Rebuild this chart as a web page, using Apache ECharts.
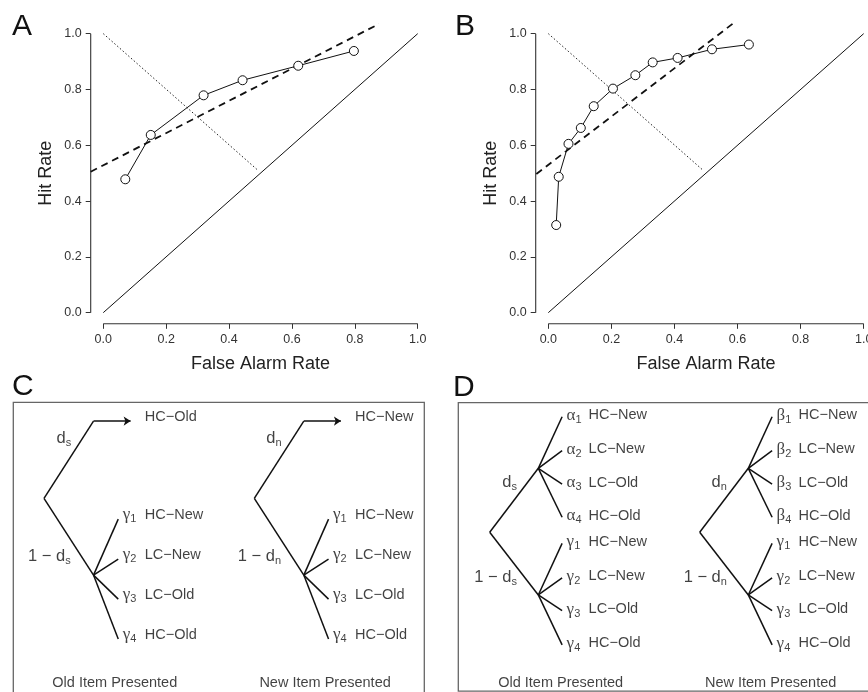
<!DOCTYPE html>
<html><head><meta charset="utf-8">
<script src="https://cdn.jsdelivr.net/npm/echarts@6/dist/echarts.min.js"></script>
<style>html,body{margin:0;padding:0;background:#fff}#c{width:868px;height:692px}</style>
</head><body><div id="c"></div>
<script>
// ---------------- DATA ----------------
const rocA = [[0.070,0.478],[0.151,0.637],[0.319,0.779],[0.443,0.833],[0.620,0.885],[0.797,0.938]];
const rocB = [[0.025,0.314],[0.033,0.487],[0.064,0.605],[0.103,0.662],[0.144,0.740],[0.205,0.803],[0.276,0.851],[0.331,0.897],[0.410,0.913],[0.519,0.944],[0.636,0.961]];
const dashedA = [[-0.04,0.505],[0.877,1.035]];
const dashedB = [[-0.038,0.497],[0.584,1.035]];
const dottedA = [[0,1],[0.493,0.509]];
const dottedB = [[0,1],[0.492,0.509]];
const chanceLine = [[0,0],[1,1]];
const tickValues = [0,0.2,0.4,0.6,0.8,1.0];
const tickLabels = ['0.0','0.2','0.4','0.6','0.8','1.0'];
const xAxisTitle = 'False Alarm Rate';
const yAxisTitle = 'Hit Rate';
const panelLetters = ['A','B','C','D'];
const captions = ['Old Item Presented','New Item Presented'];

// Tree C (units: depth, row)
const treeCNodes = {root:[0,0], up:[1,-1.93], arr:[1.75,-1.93], top:[1.5,-1.93], low:[1,1.92],
  g1:[1.5,0.52], g2:[1.5,1.52], g3:[1.5,2.52], g4:[1.5,3.52]};
const treeCEdges = [['root','up'],['root','low'],['low','g4'],['low','g1'],['low','g2'],['low','g3']];
const treeCArrow = [['up','arr']];
const treeCLeavesOld = [{node:'top',t:'HC\u2212Old'},{node:'g1',g:'\u03b3',s:'1',t:'HC\u2212New'},{node:'g2',g:'\u03b3',s:'2',t:'LC\u2212New'},{node:'g3',g:'\u03b3',s:'3',t:'LC\u2212Old'},{node:'g4',g:'\u03b3',s:'4',t:'HC\u2212Old'}];
const treeCLeavesNew = [{node:'top',t:'HC\u2212New'},{node:'g1',g:'\u03b3',s:'1',t:'HC\u2212New'},{node:'g2',g:'\u03b3',s:'2',t:'LC\u2212New'},{node:'g3',g:'\u03b3',s:'3',t:'LC\u2212Old'},{node:'g4',g:'\u03b3',s:'4',t:'HC\u2212Old'}];
const treeCBranch = {up:[0.56,-1.48], low:[0.55,1.46], caption:[1.44,4.62]};

// Tree D
const treeDNodes = {root:[0,0], up:[1,-1.91], low:[1,1.87],
  a1:[1.49,-3.45], a2:[1.49,-2.44], a3:[1.49,-1.44], a4:[1.49,-0.45],
  g1:[1.49,0.33], g2:[1.49,1.36], g3:[1.49,2.34], g4:[1.49,3.36]};
const treeDEdges = [['root','up'],['root','low'],['up','a1'],['up','a2'],['up','a3'],['up','a4'],['low','g1'],['low','g2'],['low','g3'],['low','g4']];
const responses = ['HC\u2212New','LC\u2212New','LC\u2212Old','HC\u2212Old'];
const treeDBranch = {up:[0.57,-1.46], low:[0.57,1.37], caption:[1.47,4.5]};

// ---------------- BUILD ----------------
const FONT = '"Liberation Sans", Arial, Helvetica, sans-serif';
const SERIF = '"Liberation Serif", "DejaVu Serif", serif';
const INK = '#111';
const grids = [], xAxes = [], yAxes = [], series = [], titles = [];

function rocPanel(gi, left, width, roc, dashed, dotted) {
  grids.push({left: left, top: 22.5, width: width, height: 301.3, outerBoundsMode: 'none', containLabel: false});
  const common = {
    gridIndex: gi, type: 'value', min: -0.04, max: 1.04,
    axisLine: {show: false, onZero: false}, splitLine: {show: false},
    axisTick: {show: true, customValues: tickValues, length: 5, lineStyle: {color: '#333', width: 1}},
    nameLocation: 'middle',
    nameTextStyle: {fontSize: 18, color: '#222', fontFamily: FONT}
  };
  xAxes.push(Object.assign({}, common, {
    name: xAxisTitle, nameGap: 31,
    axisLabel: {customValues: tickValues, formatter: v => tickLabels[Math.round(v * 5)], fontSize: 12.5, color: '#333', fontFamily: FONT, margin: 9}
  }));
  yAxes.push(Object.assign({}, common, {
    name: yAxisTitle, nameGap: 36,
    axisLabel: {customValues: tickValues, formatter: v => tickLabels[Math.round(v * 5)], fontSize: 12.5, color: '#333', fontFamily: FONT, margin: 9}
  }));
  const base = {xAxisIndex: gi, yAxisIndex: gi, silent: true, animation: false};
  series.push(Object.assign({type: 'line', data: [[-0.04, 0], [-0.04, 1]], symbol: 'none', clip: false,
    lineStyle: {color: '#333', width: 1.1}}, base));
  series.push(Object.assign({type: 'line', data: [[0, -0.04], [1, -0.04]], symbol: 'none', clip: false,
    lineStyle: {color: '#333', width: 1.1}}, base));
  series.push(Object.assign({type: 'line', data: chanceLine, symbol: 'none', lineStyle: {color: INK, width: 1}}, base));
  series.push(Object.assign({type: 'line', data: dotted, symbol: 'none', lineStyle: {color: '#222', width: 1, type: [1.5, 2.2]}}, base));
  series.push(Object.assign({type: 'line', data: dashed, symbol: 'none', lineStyle: {color: INK, width: 1.8, type: [7, 5]}}, base));
  series.push(Object.assign({type: 'line', data: roc, symbol: 'circle', symbolSize: 9,
    itemStyle: {color: '#fff', borderColor: INK, borderWidth: 1}, lineStyle: {color: INK, width: 1}}, base));
}

function tree(gi, rootPx, ux, uy, nodes, edges, arrowEdges, leaves, branch, subLetter, caption, dy) {
  grids.push({left: rootPx[0] - ux, top: rootPx[1] - 5 * uy, width: 4 * ux, height: 10.5 * uy, outerBoundsMode: 'none', containLabel: false});
  xAxes.push({gridIndex: gi, type: 'value', min: -1, max: 3, show: false});
  yAxes.push({gridIndex: gi, type: 'value', min: -5, max: 5.5, inverse: true, show: false});
  const base = {xAxisIndex: gi, yAxisIndex: gi, silent: true, animation: false};
  series.push(Object.assign({type: 'lines', coordinateSystem: 'cartesian2d',
    data: edges.map(e => ({coords: [nodes[e[0]], nodes[e[1]]]})),
    symbol: 'none', lineStyle: {color: INK, width: 1.5, opacity: 1}}, base));
  if (arrowEdges.length) {
    series.push(Object.assign({type: 'lines', coordinateSystem: 'cartesian2d',
      data: arrowEdges.map(e => ({coords: [nodes[e[0]], nodes[e[1]]]})),
      symbol: ['none', 'arrow'], symbolSize: [5, 7], lineStyle: {color: INK, width: 1.5, opacity: 1}}, base));
  }
  const invisible = {symbolSize: 1, itemStyle: {color: 'rgba(0,0,0,0)'}};
  series.push(Object.assign({type: 'scatter', data: leaves.filter(l => l.g).map(l => ({value: nodes[l.node], g: l.g, s: l.s})),
    label: {show: true, position: [5, dy], align: 'left', verticalAlign: 'middle',
      formatter: p => '{g|' + p.data.g + '}{s|' + p.data.s + '}',
      rich: {g: {fontFamily: SERIF, fontSize: 17, color: INK, lineHeight: 20},
             s: {fontFamily: FONT, fontSize: 11, color: INK, lineHeight: 10, verticalAlign: 'bottom'}}}
  }, invisible, base));
  series.push(Object.assign({type: 'scatter', data: leaves.map(l => ({value: nodes[l.node], t: l.t})),
    label: {show: true, position: [27, dy], align: 'left', verticalAlign: 'middle',
      formatter: p => p.data.t, fontFamily: FONT, fontSize: 14.5, color: INK}
  }, invisible, base));
  const rich = {m: {fontFamily: FONT, fontSize: 16.5, color: INK, lineHeight: 20},
                s: {fontFamily: FONT, fontSize: 11, color: INK, lineHeight: 10, verticalAlign: 'bottom'}};
  series.push(Object.assign({type: 'scatter', data: [
      {value: branch.up, txt: '{m|d}{s|' + subLetter + '}'},
      {value: branch.low, txt: '{m|1 \u2212 d}{s|' + subLetter + '}'}],
    label: {show: true, position: [0, 0], align: 'right', verticalAlign: 'middle', formatter: p => p.data.txt, rich: rich}
  }, invisible, base));
  series.push(Object.assign({type: 'scatter', data: [{value: branch.caption, t: caption}],
    label: {show: true, position: [0, 0], align: 'center', verticalAlign: 'middle', formatter: p => p.data.t,
      fontFamily: FONT, fontSize: 14.5, color: INK}
  }, invisible, base));
}

rocPanel(0, 90.7, 339.6, rocA, dashedA, dottedA);
rocPanel(1, 535.7, 340.6, rocB, dashedB, dottedB);

tree(2, [44, 498.3], 49.5, 40, treeCNodes, treeCEdges, treeCArrow, treeCLeavesOld, treeCBranch, 's', captions[0], -4);
tree(3, [254.3, 498.3], 49.5, 40, treeCNodes, treeCEdges, treeCArrow, treeCLeavesNew, treeCBranch, 'n', captions[1], -4);

function dLeaves(first) {
  const out = [];
  ['a1','a2','a3','a4'].forEach((n, i) => out.push({node: n, g: first, s: String(i + 1), t: responses[i]}));
  ['g1','g2','g3','g4'].forEach((n, i) => out.push({node: n, g: '\u03b3', s: String(i + 1), t: responses[i]}));
  return out;
}
tree(4, [489.7, 532.3], 48.6, 33.5, treeDNodes, treeDEdges, [], dLeaves('\u03b1'), treeDBranch, 's', captions[0], -1);
tree(5, [699.7, 532.3], 48.6, 33.5, treeDNodes, treeDEdges, [], dLeaves('\u03b2'), treeDBranch, 'n', captions[1], -1);

const letterPos = [[12, 12], [455, 12], [12, 372], [453, 373]];
panelLetters.forEach((l, i) => titles.push({text: l, left: letterPos[i][0], top: letterPos[i][1], padding: 0,
  textStyle: {fontSize: 30, fontWeight: 'normal', color: INK, fontFamily: FONT}}));

const chart = echarts.init(document.getElementById('c'));
chart.setOption({
  animation: false,
  backgroundColor: '#fff',
  title: titles,
  grid: grids, xAxis: xAxes, yAxis: yAxes, series: series,
  graphic: [
    {type: 'rect', shape: {x: 13.3, y: 402.3, width: 411, height: 300}, style: {fill: 'none', stroke: '#666', lineWidth: 1.3}, silent: true},
    {type: 'rect', shape: {x: 458.3, y: 402.7, width: 420, height: 288.5}, style: {fill: 'none', stroke: '#666', lineWidth: 1.3}, silent: true}
  ]
});
</script></body></html>
